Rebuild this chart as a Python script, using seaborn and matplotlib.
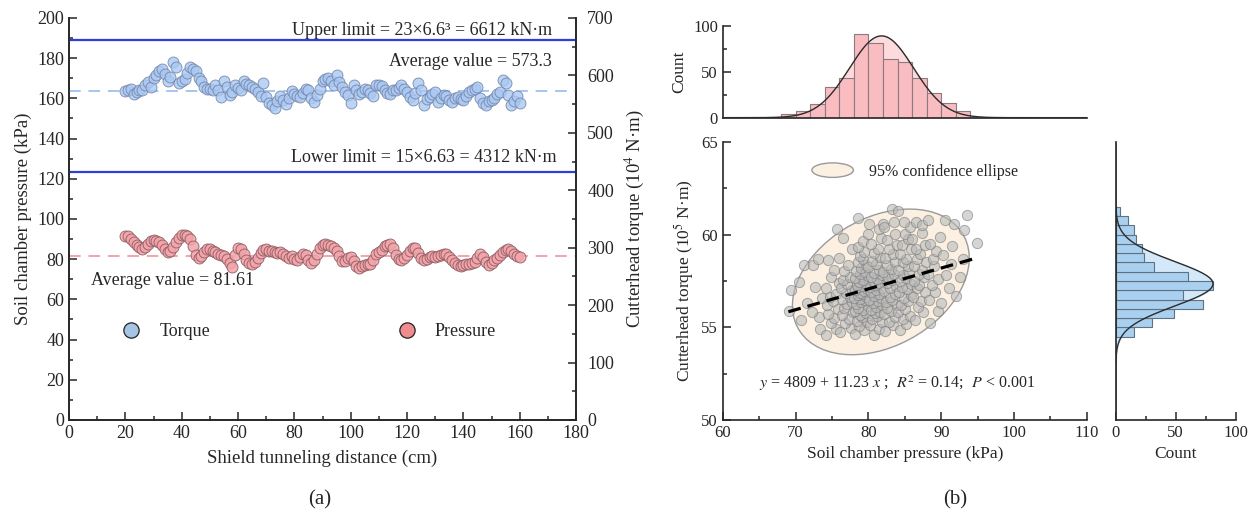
import numpy as np
import matplotlib
matplotlib.use("Agg")
import matplotlib.pyplot as plt
import seaborn as sns
from matplotlib.patches import Ellipse
from matplotlib.lines import Line2D
from matplotlib.legend_handler import HandlerPatch
from matplotlib.ticker import MultipleLocator

# ---------------- data: panel (a) ----------------
distance_start, distance_end, distance_step = 20, 160, 1
pressure = [91.5, 91.5, 90, 88.5, 87, 86, 85, 86, 87.5, 88.8, 89.4, 89, 88.5, 87, 85, 83.5, 84, 86, 88.5, 90.5,
            91.8, 92, 91.5, 90, 86.5, 82, 80.5, 81.5, 83.5, 85, 85, 84.2, 83.5, 82.8, 82, 81.5, 80, 78, 76.3, 82,
            85.8, 85, 82.5, 79.5, 78, 77.5, 78.5, 80.5, 83, 84.8, 85, 84.3, 84, 83.5, 83.2, 83.4, 82.5, 81.5, 80.5, 81.5,
            80, 79.6, 81, 82.5, 82, 79.5, 78, 79.5, 82.5, 85.5, 87.2, 87.4, 87, 86.5, 85.5, 84, 81.5, 79, 79, 80.5,
            81, 79, 76.5, 75.8, 76.5, 77, 77.5, 77.5, 79.5, 82.5, 83.5, 84.5, 86.5, 87.3, 87.4, 85.5, 82, 80, 79.6, 80.5,
            82, 84, 85.5, 85.7, 83, 80.5, 79.6, 80.2, 81, 81.5, 81.2, 81.5, 82.2, 82.5, 82.5, 81, 79.5, 78, 77, 76.8,
            77.2, 77.5, 77.8, 78.3, 78.5, 80.5, 82.5, 81, 78.5, 77.2, 78, 79.5, 80.8, 82, 83.5, 84.5, 84.9, 84, 82.5, 81.5,
            81.2]
torque = [572, 574, 577, 567, 571, 575, 574, 583, 589, 580, 596, 601, 608, 612, 603, 591, 598, 623, 615, 586,
          590, 594, 604, 615, 611, 607, 596, 590, 580, 577, 577, 575, 583, 575, 562, 591, 580, 566, 571, 583,
          578, 574, 591, 585, 583, 579, 577, 571, 564, 586, 562, 552, 549, 544, 556, 565, 558, 551, 560, 573,
          568, 565, 562, 570, 577, 575, 560, 554, 566, 577, 590, 593, 596, 591, 583, 600, 588, 580, 571, 566,
          552, 583, 575, 568, 571, 576, 574, 569, 564, 584, 583, 582, 575, 570, 568, 574, 575, 578, 583, 577,
          571, 563, 557, 570, 586, 575, 548, 559, 563, 567, 571, 554, 560, 566, 565, 558, 554, 560, 563, 559,
          557, 565, 571, 574, 576, 580, 560, 552, 548, 555, 557, 560, 568, 571, 592, 587, 566, 548, 556, 565,
          552]
torque_average = 573.3
pressure_average = 81.61
torque_upper_limit = 661.2
torque_lower_limit = 431.2

# ---------------- data: panel (b) ----------------
pressure_bin_edges = [68, 70, 72, 74, 76, 78, 80, 82, 84, 86, 88, 90, 92, 94]
pressure_counts = [4, 7, 15, 33, 43, 91, 81, 64, 61, 43, 27, 16, 7]
pressure_fit_mu, pressure_fit_sigma = 81.8, 4.4

torque_bin_edges = [54.5, 55.0, 55.5, 56.0, 56.5, 57.0, 57.5, 58.0, 58.5, 59.0, 59.5, 60.0, 60.5, 61.0, 61.5]
torque_counts = [15, 30, 49, 73, 56, 81, 60, 32, 24, 22, 17, 15, 10, 4]
torque_fit_mu, torque_fit_sigma = 57.35, 1.2

scatter_pts = [
    # 68-72 kPa
    (69.1, 55.9), (69.3, 57.0), (70.5, 57.46), (71.2, 58.36), (71.5, 56.3), (70.8, 55.4),
    # 72-74
    (72.4, 58.36), (73.0, 58.7), (72.6, 57.2), (73.2, 55.58), (72.2, 55.85), (73.6, 56.6), (73.4, 54.9),
    # 74-76
    (74.2, 54.61), (75.6, 54.91), (74.9, 55.21), (75.3, 55.51), (74.5, 55.71), (75.8, 56.01), (74.3, 56.21), (75.1, 56.41),
    (74.7, 56.61), (75.5, 56.81), (74.1, 57.11), (75.9, 57.41), (74.8, 57.71), (75.2, 58.11), (74.5, 58.61), (75.7, 60.29),
    # 76-78
    (76.1, 54.74), (77.6, 54.94), (76.8, 55.24), (77.3, 55.44), (76.4, 55.64), (77.9, 55.84), (76.6, 56.04), (77.1, 56.24),
    (77.7, 56.34), (76.3, 56.54), (77.4, 56.64), (76.9, 56.84), (77.8, 57.04), (76.2, 57.14), (77.0, 57.34), (76.5, 57.54),
    (77.5, 57.74), (76.7, 58.04), (77.2, 58.34), (76.0, 58.74), (77.8, 59.24), (76.5, 59.8),
    # 78-80
    (78.2, 54.66), (79.4, 54.86), (78.7, 55.06), (79.8, 55.26), (78.4, 55.36), (79.1, 55.56), (78.9, 55.66), (79.6, 55.76),
    (78.1, 55.86), (79.3, 55.96), (78.6, 56.06), (79.9, 56.16), (78.3, 56.26), (79.0, 56.36), (79.5, 56.46), (78.8, 56.51),
    (78.0, 56.56), (79.7, 56.66), (78.5, 56.76), (79.2, 56.81), (78.9, 56.86), (79.4, 56.96), (78.2, 57.01), (79.8, 57.06),
    (78.6, 57.16), (79.1, 57.21), (78.4, 57.26), (79.6, 57.36), (78.7, 57.46), (79.3, 57.56), (78.1, 57.66), (79.9, 57.76),
    (78.8, 57.86), (79.5, 57.96), (78.3, 58.06), (79.0, 58.21), (79.7, 58.36), (78.5, 58.51), (79.2, 58.66), (78.9, 58.86),
    (79.4, 59.06), (78.6, 59.36), (79.2, 59.66), (80.0, 60.06), (78.6, 60.9),
    # 80-82
    (80.7, 54.6), (81.5, 54.9), (80.2, 55.1), (81.8, 55.3), (80.5, 55.45), (81.2, 55.6), (80.9, 55.75), (81.6, 55.85),
    (80.3, 55.95), (81.0, 56.1), (81.9, 56.2), (80.6, 56.3), (81.3, 56.4), (80.1, 56.5), (81.7, 56.6), (80.8, 56.7),
    (81.4, 56.8), (80.4, 56.9), (81.1, 57.0), (81.8, 57.1), (80.2, 57.2), (80.9, 57.3), (81.5, 57.4), (80.6, 57.5),
    (81.2, 57.6), (80.3, 57.7), (81.9, 57.8), (80.7, 57.95), (81.4, 58.1), (80.0, 58.25), (81.1, 58.4), (80.5, 58.6),
    (81.6, 58.8), (80.8, 59.0), (81.3, 59.25), (80.4, 59.5), (81.7, 59.8), (80.1, 60.56), (81.5, 60.3), (82.0, 60.6),
    # 82-84
    (82.3, 54.8), (83.4, 55.1), (82.8, 55.3), (83.7, 55.55), (82.1, 55.7), (83.1, 55.9), (82.6, 56.05), (83.9, 56.2),
    (82.4, 56.35), (83.3, 56.5), (82.9, 56.65), (83.6, 56.8), (82.2, 56.95), (83.0, 57.1), (83.8, 57.25), (82.5, 57.4),
    (83.2, 57.55), (82.7, 57.7), (83.5, 57.85), (82.0, 58.0), (83.1, 58.15), (82.6, 58.35), (83.7, 58.55), (82.3, 58.75),
    (83.4, 58.95), (82.8, 59.2), (83.9, 59.45), (82.5, 59.7), (83.6, 60.05), (82.1, 60.4), (83.2, 61.4), (83.5, 60.7),
    # 84-86
    (84.3, 54.85), (85.2, 55.2), (84.7, 55.45), (85.7, 55.6), (84.1, 55.8), (85.0, 56.0), (84.5, 56.2), (85.5, 56.4),
    (84.9, 56.6), (85.8, 56.75), (84.2, 56.9), (85.3, 57.05), (84.6, 57.2), (85.9, 57.35), (84.4, 57.5), (85.1, 57.65),
    (84.8, 57.8), (85.6, 57.95), (84.0, 58.1), (85.4, 58.3), (84.7, 58.5), (85.2, 58.7), (84.3, 58.95), (85.8, 59.2),
    (84.6, 59.45), (85.5, 59.75), (84.1, 61.3), (85.0, 60.05), (85.7, 60.4), (84.9, 60.7),
    # 86-88
    (86.4, 55.4), (87.5, 55.8), (86.8, 56.1), (87.2, 56.4), (86.1, 56.65), (87.8, 56.9), (86.6, 57.1), (87.0, 57.3),
    (86.3, 57.5), (87.6, 57.7), (86.9, 57.9), (87.3, 58.1), (86.2, 58.3), (87.9, 58.5), (86.7, 58.7), (87.1, 58.95),
    (86.5, 59.2), (87.7, 59.45), (86.0, 59.75), (87.4, 60.1), (86.5, 60.7), (87.3, 60.5),
    # 88-90
    (88.4, 55.25), (89.6, 55.9), (88.3, 56.5), (89.1, 56.9), (88.7, 57.3), (89.5, 57.6), (88.2, 57.9), (89.0, 58.3),
    (88.8, 58.7), (89.3, 59.1), (88.5, 59.5), (89.8, 59.9), (88.2, 60.8),
    # 90-95
    (90.0, 56.3), (91.0, 57.1), (90.6, 57.8), (91.3, 58.4), (90.2, 58.9), (91.5, 59.4), (90.5, 60.8), (91.7, 60.6),
    (92.0, 56.7), (92.6, 57.7), (93.0, 58.7), (93.1, 60.25), (93.5, 61.06), (94.9, 59.53),
]
reg_intercept, reg_slope = 48.09, 0.1123
reg_x = [69, 95]

# ---------------- style ----------------
sns.set_theme(style="ticks")
plt.rcParams['font.family'] = ['Liberation Serif', 'DejaVu Serif']
plt.rcParams['mathtext.fontset'] = 'stix'
plt.rcParams['axes.linewidth'] = 1.2

fig = plt.figure(figsize=(12.55, 5.23), dpi=100)

# ---------------- panel (a) ----------------
distance = np.arange(distance_start, distance_end + 0.5 * distance_step, distance_step)
ax1 = fig.add_axes([0.055, 0.197, 0.404, 0.7686])
ax2 = ax1.twinx()

ax1.axhline(pressure_average, color='#f5a3aa', lw=1.4, ls=(0, (6, 4)), zorder=1)
ax2.axhline(torque_average, color='#a7c4f2', lw=1.4, ls=(0, (6, 4)), zorder=1)
ax2.axhline(torque_upper_limit, color='#2c3fd8', lw=1.6, zorder=2)
ax2.axhline(torque_lower_limit, color='#2c3fd8', lw=1.6, zorder=2)

sns.scatterplot(x=distance, y=pressure, ax=ax1, s=62, color='#f4a4ab', edgecolor='#8a5a5e',
                linewidth=0.7, alpha=0.85, zorder=3, legend=False)
sns.scatterplot(x=distance, y=torque, ax=ax2, s=62, color='#aac8f2', edgecolor='#6f82a8',
                linewidth=0.7, alpha=0.8, zorder=3, legend=False)

ax1.set_xlim(0, 180)
ax1.set_ylim(0, 200)
ax2.set_ylim(0, 700)
ax1.xaxis.set_major_locator(MultipleLocator(20))
ax1.xaxis.set_minor_locator(MultipleLocator(10))
ax1.yaxis.set_major_locator(MultipleLocator(20))
ax1.yaxis.set_minor_locator(MultipleLocator(10))
ax2.yaxis.set_major_locator(MultipleLocator(100))
ax2.yaxis.set_minor_locator(MultipleLocator(50))
for a in (ax1, ax2):
    a.spines['top'].set_visible(False)
    a.tick_params(which='both', direction='in', labelsize=13, width=1.1)
    a.tick_params(which='major', length=6)
    a.tick_params(which='minor', length=3)
ax2.tick_params(axis='y', pad=8)
ax2.spines['right'].set_visible(True)
ax1.set_xlabel('Shield tunneling distance (cm)', fontsize=13.5, labelpad=6)
ax1.set_ylabel('Soil chamber pressure (kPa)', fontsize=13.5)
ax2.set_ylabel('Cutterhead torque (10$^4$ N·m)', fontsize=13.5, labelpad=6)

ax1.text(0.953, 0.970, 'Upper limit = 23×6.6³ = 6612 kN·m', transform=ax1.transAxes,
         ha='right', va='center', fontsize=13)
ax1.text(0.953, 0.891, 'Average value = 573.3', transform=ax1.transAxes,
         ha='right', va='center', fontsize=13)
ax1.text(0.962, 0.652, 'Lower limit = 15×6.63 = 4312 kN·m', transform=ax1.transAxes,
         ha='right', va='center', fontsize=13)
ax1.text(0.043, 0.346, 'Average value = 81.61', transform=ax1.transAxes,
         ha='left', va='center', fontsize=13)

handles = [Line2D([], [], marker='o', ls='', markerfacecolor='#a6c4e4', markeredgecolor='#222',
                  markeredgewidth=0.9, markersize=11, label='Torque'),
           Line2D([], [], marker='o', ls='', markerfacecolor='#ef8c8e', markeredgecolor='#222',
                  markeredgewidth=0.9, markersize=11, label='Pressure')]
ax2.legend(handles=handles, ncol=2, loc='center left', bbox_to_anchor=(0.055, 0.219), frameon=False,
           columnspacing=9.9, handletextpad=0.55, fontsize=13)

# ---------------- panel (b) ----------------
axs = fig.add_axes([0.576, 0.197, 0.290, 0.5315])
axt = fig.add_axes([0.576, 0.775, 0.290, 0.1753])
axr = fig.add_axes([0.889, 0.197, 0.0956, 0.5315])

sx = np.array([p[0] for p in scatter_pts])
sy = np.array([p[1] for p in scatter_pts])

# 95% confidence ellipse from the data
cov = np.cov(sx, sy)
vals, vecs = np.linalg.eigh(cov)
order = vals.argsort()[::-1]
vals, vecs = vals[order], vecs[:, order]
angle = np.degrees(np.arctan2(vecs[1, 0], vecs[0, 0]))
chi2_95 = 5.991
ell = Ellipse((sx.mean(), sy.mean()), 2 * np.sqrt(chi2_95 * vals[0]), 2 * np.sqrt(chi2_95 * vals[1]),
              angle=angle, facecolor='#fbf0e2', edgecolor='#9a9a9a', lw=1.0, zorder=1)
axs.add_patch(ell)

sns.scatterplot(x=sx, y=sy, ax=axs, s=55, color='#b9b9b9', edgecolor='#7a7a7a', linewidth=0.7,
                alpha=0.6, zorder=3, legend=False)
reg_y = reg_intercept + reg_slope * np.array(reg_x)
sns.lineplot(x=reg_x, y=reg_y, ax=axs, color='black', lw=2.3, linestyle=(0, (4, 2.2)), zorder=4)

axs.set_xlim(60, 110)
axs.set_ylim(50, 65)
axs.xaxis.set_major_locator(MultipleLocator(10))
axs.xaxis.set_minor_locator(MultipleLocator(5))
axs.yaxis.set_major_locator(MultipleLocator(5))
axs.yaxis.set_minor_locator(MultipleLocator(2.5))
axs.spines['top'].set_visible(False)
axs.spines['right'].set_visible(False)
axs.tick_params(which='both', direction='in', labelsize=12, width=1.1)
axs.tick_params(which='major', length=6)
axs.tick_params(which='minor', length=3)
axs.set_xlabel('Soil chamber pressure (kPa)', fontsize=12.5, labelpad=4)
axs.set_ylabel('Cutterhead torque (10$^5$ N·m)', fontsize=12.5)
axs.text(0.478, 0.133, '$y$ = 4809 + 11.23 $x$ ;  $R^2$ = 0.14;  $P$ < 0.001', transform=axs.transAxes,
         ha='center', va='center', fontsize=11.5)


def make_ellipse(legend, orig_handle, xdescent, ydescent, width, height, fontsize):
    return Ellipse(xy=(0.5 * width - xdescent, 0.5 * height - ydescent), width=width, height=height * 1.3)


ell_handle = Ellipse((0, 0), 1, 1, facecolor='#fbf0e2', edgecolor='#9a9a9a', lw=1.0)
axs.legend([ell_handle], ['95% confidence ellipse'], handler_map={Ellipse: HandlerPatch(patch_func=make_ellipse)},
           loc='center left', bbox_to_anchor=(0.205, 0.893), frameon=False, handlelength=2.6,
           handletextpad=1.0, fontsize=11.5)

# top histogram (pressure)
p_centers = (np.array(pressure_bin_edges[:-1]) + np.array(pressure_bin_edges[1:])) / 2
p_bw = pressure_bin_edges[1] - pressure_bin_edges[0]
p_total = sum(pressure_counts)
xs = np.linspace(60, 110, 400)
p_curve = p_total * p_bw * np.exp(-0.5 * ((xs - pressure_fit_mu) / pressure_fit_sigma) ** 2) / (pressure_fit_sigma * np.sqrt(2 * np.pi))
axt.fill_between(xs, p_curve, color='#fddadd', zorder=1)
sns.histplot(x=p_centers, weights=pressure_counts, bins=pressure_bin_edges, ax=axt, color='#f8bcc1',
             edgecolor='#8c7a7c', linewidth=0.8, alpha=1, zorder=2)
sns.lineplot(x=xs, y=p_curve, ax=axt, color='#2b2b2b', lw=1.0, zorder=3)
axt.set_xlim(60, 110)
axt.set_ylim(0, 100)
axt.yaxis.set_major_locator(MultipleLocator(50))
axt.yaxis.set_minor_locator(MultipleLocator(25))
axt.set_xticks([])
axt.set_xlabel('')
axt.spines['top'].set_visible(False)
axt.spines['right'].set_visible(False)
axt.tick_params(which='both', direction='in', labelsize=12, width=1.1)
axt.tick_params(which='major', length=6)
axt.tick_params(which='minor', length=3)
axt.set_ylabel('Count', fontsize=12.5)

# right histogram (torque)
t_centers = (np.array(torque_bin_edges[:-1]) + np.array(torque_bin_edges[1:])) / 2
t_bw = torque_bin_edges[1] - torque_bin_edges[0]
t_total = sum(torque_counts)
ys = np.linspace(50, 65, 400)
t_curve = t_total * t_bw * np.exp(-0.5 * ((ys - torque_fit_mu) / torque_fit_sigma) ** 2) / (torque_fit_sigma * np.sqrt(2 * np.pi))
axr.fill_betweenx(ys, t_curve, color='#d3e8f8', zorder=1)
sns.histplot(y=t_centers, weights=torque_counts, bins=torque_bin_edges, ax=axr, color='#a9d0ee',
             edgecolor='#5f7184', linewidth=0.8, alpha=1, zorder=2)
sns.lineplot(x=t_curve, y=ys, ax=axr, color='#2b2b2b', lw=1.0, orient='y', zorder=3)
axr.set_ylim(50, 65)
axr.set_xlim(0, 100)
axr.xaxis.set_major_locator(MultipleLocator(50))
axr.xaxis.set_minor_locator(MultipleLocator(25))
axr.set_yticks([])
axr.set_ylabel('')
axr.spines['top'].set_visible(False)
axr.spines['right'].set_visible(False)
axr.tick_params(which='both', direction='in', labelsize=12, width=1.1)
axr.tick_params(which='major', length=6)
axr.tick_params(which='minor', length=3)
axr.set_xlabel('Count', fontsize=12.5, labelpad=4)

fig.text(0.255, 0.045, '(a)', ha='center', va='center', fontsize=15)
fig.text(0.761, 0.045, '(b)', ha='center', va='center', fontsize=15)

fig.savefig('out.png', dpi=100)
